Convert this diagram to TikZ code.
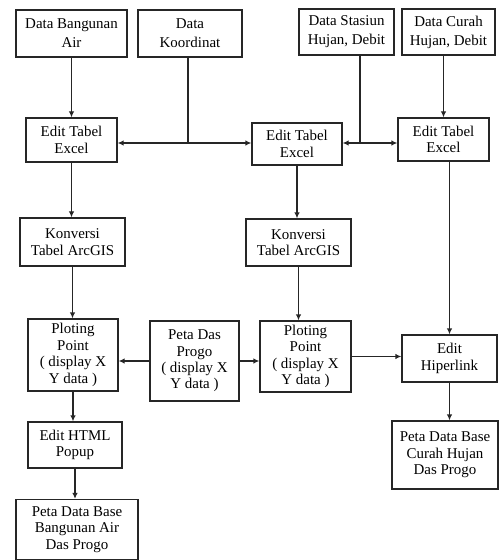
\documentclass[tikz,border=0pt]{standalone}
\usepackage{fontspec}
\setmainfont{Liberation Serif}
\usetikzlibrary{arrows.meta}
\begin{document}
\begin{tikzpicture}[x=1bp,y=-1bp,
  box/.style={draw=black!85, line width=1.2bp, align=center, inner sep=0pt,
    font=\fontsize{15}{16.5}\selectfont},
  topbox/.style={box, font=\fontsize{15}{19}\selectfont},
  arr/.style={draw=black!85, line width=1.2bp, -{Latex[length=6bp,width=5.5bp]}},
  ln/.style={draw=black!85, line width=1.2bp}]
\useasboundingbox (0,0) rectangle (499,560);
% top row
\node[topbox, minimum width=111bp, minimum height=47bp] (bang) at (71.5,33.5) {Data Bangunan\\Air};
\node[topbox, minimum width=104bp, minimum height=47bp] (koor) at (190,33.5) {Data\\Koordinat};
\node[topbox, minimum width=95bp, minimum height=46bp] (stas) at (346.5,32) {Data Stasiun\\Hujan, Debit};
\node[topbox, minimum width=93bp, minimum height=46bp] (curah) at (448.5,32) {Data Curah\\Hujan, Debit};
% edit tabel
\node[box, minimum width=91bp, minimum height=44bp] (e1) at (71.5,140) {Edit Tabel\\Excel};
\node[box, minimum width=90bp, minimum height=42bp] (e2) at (297,144) {Edit Tabel\\Excel};
\node[box, minimum width=91bp, minimum height=43bp] (e3) at (443.5,139.5) {Edit Tabel\\Excel};
% konversi
\node[box, minimum width=105bp, minimum height=48bp] (k1) at (72.5,242) {Konversi\\Tabel ArcGIS};
\node[box, minimum width=105bp, minimum height=47bp] (k2) at (298.5,242.5) {Konversi\\Tabel ArcGIS};
% ploting
\node[box, minimum width=90bp, minimum height=72bp] (p1) at (73,355) {Ploting\\Point\\( display X\\Y data )};
\node[box, minimum width=89bp, minimum height=80bp] (peta) at (194.5,361) {Peta Das\\Progo\\( display X\\Y data )};
\node[box, minimum width=91bp, minimum height=71bp] (p2) at (305.5,356.5) {Ploting\\Point\\( display X\\Y data )};
\node[box, minimum width=95bp, minimum height=47bp] (hip) at (449.5,358.5) {Edit\\Hiperlink};
% bottom
\node[box, minimum width=94bp, minimum height=46bp] (html) at (75,445) {Edit HTML\\Popup};
\node[box, minimum width=122bp, minimum height=60bp] (db1) at (77,529.5) {Peta Data Base\\Bangunan Air\\Das Progo};
\node[box, minimum width=106bp, minimum height=68bp] (db2) at (445,455) {Peta Data Base\\Curah Hujan\\Das Progo};
% junctions
\coordinate (j1) at (188,143);
\coordinate (j2) at (360,143);
% connectors
\draw[arr] (bang.south) -- (bang.south |- e1.north);
\draw[arr] (curah.south -| e3.north) -- (e3.north);
\draw[ln] (koor.south -| j1) -- (j1);
\draw[arr] (j1) -- (j1 -| e1.east);
\draw[arr] (j1) -- (j1 -| e2.west);
\draw[ln] (stas.south -| j2) -- (j2);
\draw[arr] (j2) -- (j2 -| e2.east);
\draw[arr] (j2) -- (j2 -| e3.west);
\draw[arr] (e1.south) -- (e1.south |- k1.north);
\draw[arr] (e2.south) -- (e2.south |- k2.north);
\draw[arr] (hip.north |- e3.south) -- (hip.north);
\draw[arr] (k1.south) -- (k1.south |- p1.north);
\draw[arr] (k2.south) -- (k2.south |- p2.north);
\draw[arr] (peta.west) -- (p1.east |- peta.west);
\draw[arr] (peta.east) -- (p2.west |- peta.east);
\draw[arr] (p2.east) -- (hip.west |- p2.east);
\draw[arr] (p1.south) -- (p1.south |- html.north);
\draw[arr] (html.south) -- (html.south |- db1.north);
\draw[arr] (hip.south) -- (hip.south |- db2.north);
\end{tikzpicture}
\end{document}
